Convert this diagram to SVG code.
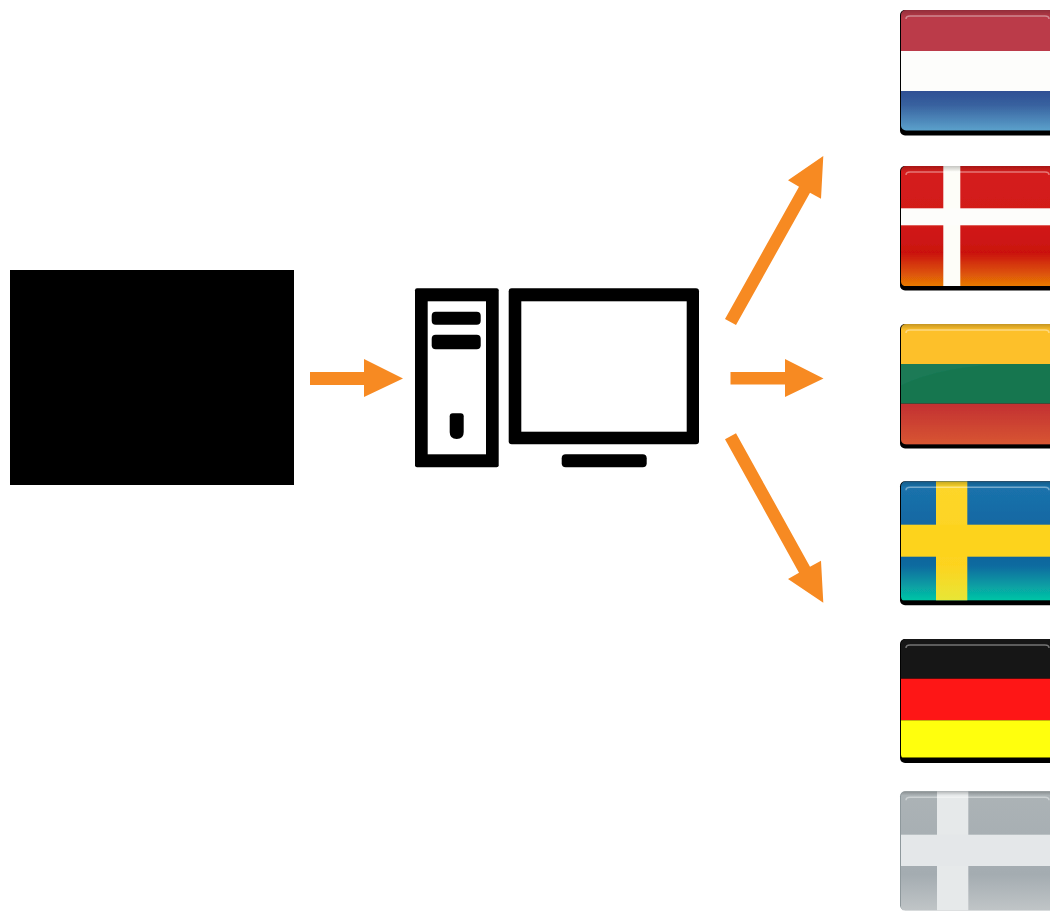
<svg xmlns="http://www.w3.org/2000/svg" width="1050" height="911" viewBox="0 0 1050 911">
<style>
.k{fill:#000}
.w{fill:#fff}
.arrow{fill:#f78a22}
.edge{fill:#000}
.flag{filter:url(#soft)}
.hl{fill:none;stroke:#fff;stroke-opacity:.4;stroke-width:1.5}
.top{fill:url(#topShade)}
.sheen{fill:#fff;fill-opacity:.035}
</style>
<defs>
<filter id="soft" x="-2%" y="-2%" width="104%" height="106%"><feGaussianBlur stdDeviation="0.45"/></filter>
<clipPath id="face"><rect x="1" y="0" width="165" height="120.500" rx="5"/></clipPath>
<linearGradient id="topShade" x1="0" y1="0" x2="0" y2="1"><stop offset="0" stop-color="#000" stop-opacity=".22"/><stop offset="1" stop-color="#000" stop-opacity="0"/></linearGradient>
<linearGradient id="nlBlue" x1="0" y1="0" x2="0" y2="1"><stop offset="0" stop-color="#2f4f94"/><stop offset=".35" stop-color="#38619f"/><stop offset="1" stop-color="#5ca2cc"/></linearGradient>
<linearGradient id="dkRed" x1="0" y1="0" x2="0" y2="1"><stop offset="0" stop-color="#d51e1c"/><stop offset=".5" stop-color="#d11a18"/><stop offset=".72" stop-color="#ca110f"/><stop offset="1" stop-color="#e87a04"/></linearGradient>
<linearGradient id="ltRed" x1="0" y1="0" x2="0" y2="1"><stop offset="0" stop-color="#c23033"/><stop offset="1" stop-color="#d85633"/></linearGradient>
<linearGradient id="seBlue" x1="0" y1="0" x2="0" y2="1"><stop offset="0" stop-color="#1b74ad"/><stop offset=".6" stop-color="#12609c"/><stop offset=".72" stop-color="#0f6da0"/><stop offset="1" stop-color="#03c5a6"/></linearGradient>
<linearGradient id="seYellow" x1="0" y1="0" x2="0" y2="1"><stop offset="0" stop-color="#fdd62a"/><stop offset=".7" stop-color="#fdd31f"/><stop offset="1" stop-color="#e8e636"/></linearGradient>
<linearGradient id="grey" x1="0" y1="0" x2="0" y2="1"><stop offset="0" stop-color="#acb3b6"/><stop offset=".7" stop-color="#a4acb1"/><stop offset="1" stop-color="#c0c5c7"/></linearGradient>
</defs>
<rect width="1050" height="911" fill="#fff"/>

<g id="source"><rect class="k" x="10" y="270" width="284" height="215"/></g>

<g id="computer">
<rect class="k" x="415" y="288.300" width="83.700" height="179" rx="2"/>
<rect class="w" x="427.700" y="301.300" width="58.300" height="153"/>
<rect class="k" x="431.700" y="311.700" width="49" height="13" rx="4"/>
<rect class="k" x="431.700" y="334.700" width="49" height="14.600" rx="4"/>
<path class="k" d="M452.700 413.300H460.700Q463.700 413.300 463.700 416.300V432Q463.700 439 456.700 439Q449.700 439 449.700 432V416.300Q449.700 413.300 452.700 413.300Z"/>
<rect class="k" x="508.700" y="288.300" width="190.300" height="156" rx="3"/>
<rect class="w" x="521.300" y="301.300" width="165.400" height="130.400"/>
<rect class="k" x="561.700" y="454.300" width="85" height="13" rx="4"/>
</g>

<g id="connectors">
<polygon class="arrow" points="310,372 364,372 364,359 403,378.500 364,397 364,385 310,385"/>
<polygon class="arrow" points="730.500,372 785,372 785,359 823.500,378.500 785,397 785,384.500 730.500,384.500"/>
<polygon class="arrow" points="725,319 799,186.700 788,180.300 823.300,156 821,198.700 810,192.700 736,325"/>
<polygon class="arrow" points="725,439.300 799,572.700 788,579 823.300,602.700 821,560.700 810,566.700 736,433.300"/>
</g>

<g id="flag-nl" class="flag" transform="translate(900,10)">
<rect class="edge" x="0" y="0" width="170" height="125.500" rx="5"/>
<g clip-path="url(#face)">
<rect x="0" y="0" width="170" height="41" fill="#bb3b4a"/>
<rect x="0" y="41" width="170" height="40" fill="#fdfdfb"/>
<rect x="0" y="81" width="170" height="40" fill="url(#nlBlue)"/>
<rect class="top" x="0" y="0" width="170" height="8"/>
<path class="hl" d="M6 9Q6 6 10 6H145Q149 6 149 9"/>
</g>
</g>

<g id="flag-dk" class="flag" transform="translate(900,166)">
<rect class="edge" x="0" y="0" width="170" height="124.500" rx="5"/>
<g clip-path="url(#face)">
<rect x="0" y="0" width="170" height="120" fill="url(#dkRed)"/>
<rect x="43.300" y="0" width="17" height="120" fill="#fdfdf8"/>
<rect x="0" y="42.300" width="170" height="17" fill="#fdfdfb"/>
<rect class="top" x="0" y="0" width="170" height="6"/>
<path class="hl" d="M6 9Q6 6 10 6H145Q149 6 149 9"/>
</g>
</g>

<g id="flag-lt" class="flag" transform="translate(900,324)">
<rect class="edge" x="0" y="0" width="170" height="124.500" rx="5"/>
<g clip-path="url(#face)">
<rect x="0" y="0" width="170" height="40" fill="#fdc02c"/>
<rect x="0" y="40" width="170" height="39.700" fill="#127650"/>
<rect x="0" y="79.700" width="170" height="41" fill="url(#ltRed)"/>
<rect class="top" x="0" y="0" width="170" height="6"/>
<path class="sheen" d="M0 62Q40 42 110 40H0Z"/>
<path class="hl" d="M6 9Q6 6 10 6H145Q149 6 149 9"/>
</g>
</g>

<g id="flag-se" class="flag" transform="translate(900,481.300)">
<rect class="edge" x="0" y="0" width="170" height="124" rx="5"/>
<g clip-path="url(#face)">
<rect x="0" y="0" width="170" height="119" fill="url(#seBlue)"/>
<rect x="36" y="0" width="31.300" height="119" fill="url(#seYellow)"/>
<rect x="0" y="43.400" width="170" height="32" fill="#fdd31f"/>
<rect class="top" x="0" y="0" width="170" height="6"/>
<path class="hl" d="M6 9Q6 6 10 6H145Q149 6 149 9"/>
</g>
</g>

<g id="flag-de" class="flag" transform="translate(900,639)">
<rect class="edge" x="0" y="0" width="170" height="124" rx="5"/>
<g clip-path="url(#face)">
<rect x="0" y="0" width="170" height="39.700" fill="#161616"/>
<rect x="0" y="39.700" width="170" height="41.600" fill="#fe1212"/>
<rect x="0" y="81.300" width="170" height="37.400" fill="#ffff0c"/>
<rect class="edge" x="0" y="118.700" width="170" height="3"/>
<path class="hl" d="M6 9Q6 6 10 6H145Q149 6 149 9"/>
</g>
</g>

<g id="flag-other" class="flag" transform="translate(900,791.300)">
<rect x="0" y="0" width="170" height="119" rx="5" fill="#8e989c"/>
<g clip-path="url(#face)">
<rect x="0" y="0" width="170" height="119" fill="url(#grey)"/>
<rect x="37" y="0" width="31.300" height="119" fill="#e6e9ea"/>
<rect x="0" y="43.400" width="170" height="31.300" fill="#e4e7e9"/>
<rect class="top" x="0" y="0" width="170" height="4"/>
<path class="hl" d="M6 9Q6 6 10 6H145Q149 6 149 9"/>
</g>
</g>
</svg>
